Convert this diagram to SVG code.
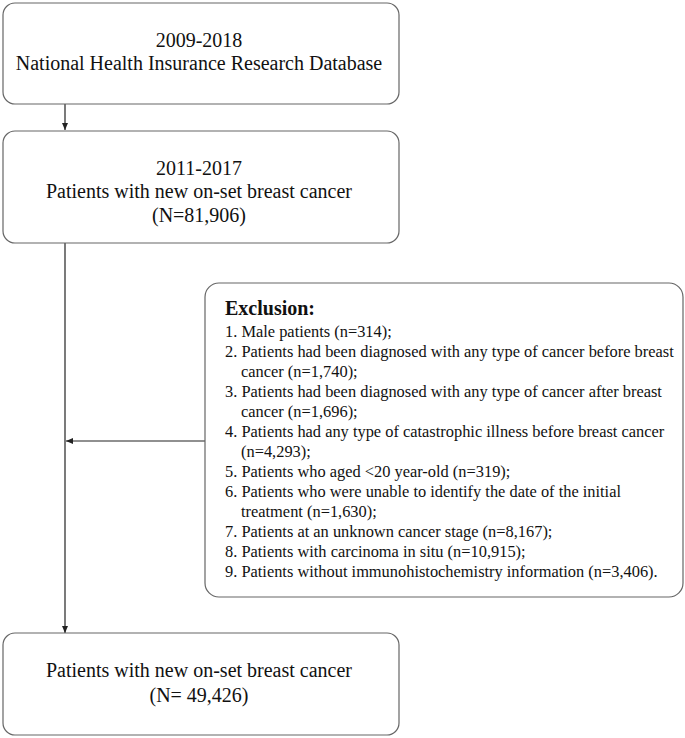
<svg xmlns="http://www.w3.org/2000/svg" width="685" height="738" viewBox="0 0 685 738">
<style>
.box{fill:#fff;stroke:#666;stroke-width:1.2}
.t{font-family:"Liberation Serif","Times New Roman",serif;font-size:20px;fill:#111;text-anchor:middle}
.e{font-family:"Liberation Serif","Times New Roman",serif;font-size:16.4px;fill:#111}
.eb{font-family:"Liberation Serif","Times New Roman",serif;font-size:20px;font-weight:bold;fill:#111}
.ln{stroke:#222;stroke-width:1.2;fill:none}
</style>
<defs>
<marker id="ah" markerWidth="8" markerHeight="8" refX="7" refY="4" orient="auto" markerUnits="userSpaceOnUse">
<path d="M0,1 L7,4 L0,7 Z" fill="#222"/>
</marker>
</defs>
<rect width="685" height="738" fill="#fff"/>
<g id="connectors">
<line class="ln" x1="65" y1="104" x2="65" y2="130" marker-end="url(#ah)"/>
<line class="ln" x1="65" y1="243" x2="65" y2="633" marker-end="url(#ah)"/>
<line class="ln" x1="205" y1="441" x2="66" y2="441" marker-end="url(#ah)"/>
</g>
<g id="node1">
<rect class="box" x="3" y="3" width="396" height="101" rx="12"/>
<text class="t" x="199" y="47">2009-2018</text>
<text class="t" x="199" y="70">National Health Insurance Research Database</text>
</g>
<g id="node2">
<rect class="box" x="3" y="131" width="396" height="112" rx="12"/>
<text class="t" x="199" y="175">2011-2017</text>
<text class="t" x="199" y="198">Patients with new on-set breast cancer</text>
<text class="t" x="199" y="222">(N=81,906)</text>
</g>
<g id="exclusion">
<rect class="box" x="205" y="283" width="478" height="314" rx="14"/>
<text class="eb" x="225" y="315">Exclusion:</text>
<text class="e" x="225" y="337">1. Male patients (n=314);</text>
<text class="e" x="225" y="357">2. Patients had been diagnosed with any type of cancer before breast</text>
<text class="e" x="241" y="377">cancer (n=1,740);</text>
<text class="e" x="225" y="397">3. Patients had been diagnosed with any type of cancer after breast</text>
<text class="e" x="241" y="417">cancer (n=1,696);</text>
<text class="e" x="225" y="437">4. Patients had any type of catastrophic illness before breast cancer</text>
<text class="e" x="241" y="457">(n=4,293);</text>
<text class="e" x="225" y="477">5. Patients who aged &lt;20 year-old (n=319);</text>
<text class="e" x="225" y="497">6. Patients who were unable to identify the date of the initial</text>
<text class="e" x="241" y="517">treatment (n=1,630);</text>
<text class="e" x="225" y="537">7. Patients at an unknown cancer stage (n=8,167);</text>
<text class="e" x="225" y="557">8. Patients with carcinoma in situ (n=10,915);</text>
<text class="e" x="225" y="577">9. Patients without immunohistochemistry information (n=3,406).</text>
</g>
<g id="node3">
<rect class="box" x="3" y="633" width="396" height="102" rx="12"/>
<text class="t" x="199" y="677">Patients with new on-set breast cancer</text>
<text class="t" x="199" y="702">(N= 49,426)</text>
</g>
</svg>
